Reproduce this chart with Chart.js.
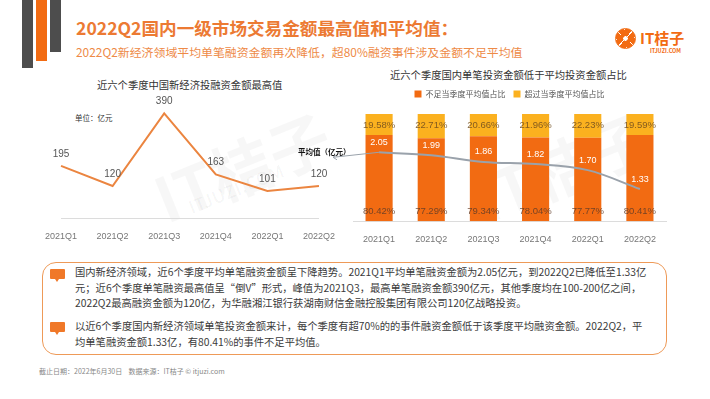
<!DOCTYPE html>
<html>
<head>
<meta charset="utf-8">
<script src="https://cdn.jsdelivr.net/npm/chart.js@4"></script>
<style>
  body { margin:0; width:710px; height:399px; background:#fff; position:relative; overflow:hidden;
         font-family:"Noto Sans CJK SC","Noto Sans",sans-serif; }
  .abs { position:absolute; white-space:nowrap; }
  .bar { position:absolute; top:0; }
  .box { position:absolute; left:42px; top:262px; width:623px; height:91px;
         border:1.5px solid #EE9A58; border-radius:14px; }
  .para { position:absolute; left:75px; font-size:10.3px; line-height:15.7px; color:#3a3a3a; white-space:nowrap; }
  .icon { position:absolute; left:50px; width:15px; height:10px; background:#F07828; border-radius:1px; }
  .icon:after { content:""; position:absolute; left:5px; top:10px; border-left:2px solid transparent;
                border-right:2px solid transparent; border-top:3px solid #F07828; }
  .wm { position:absolute; color:rgba(0,0,0,0.03); font-weight:bold; transform:rotate(-22deg); white-space:nowrap; }
</style>
</head>
<body>
<div class="bar" style="left:22px;width:11px;height:68px;background:#4d4d4d"></div>
<div class="bar" style="left:36px;width:11px;height:61px;background:#F26B12"></div>
<div class="bar" style="left:50px;width:11px;height:52px;background:#4d4d4d"></div>

<div class="abs" style="left:76px;top:15px;font-size:17.6px;font-weight:bold;color:#EC7A33">2022Q2国内一级市场交易金额最高值和平均值：</div>
<div class="abs" style="left:76px;top:43px;font-size:11.9px;color:#EE8A47">2022Q2新经济领域平均单笔融资金额再次降低，超80%融资事件涉及金额不足平均值</div>

<div class="abs" style="left:615px;top:28px;width:21px;height:21px;border-radius:50%;
  background:radial-gradient(circle,#fff 0 2px,transparent 2.5px),repeating-conic-gradient(#F26B12 0 38deg,#fff 38deg 45deg);border:1px solid #F26B12;box-sizing:border-box"></div>
<div class="abs" style="left:640px;top:27px;font-size:15px;color:#F26B12;font-weight:bold">IT桔子</div>
<div class="abs" style="left:650px;top:47px;font-size:5.5px;color:#F26B12;font-weight:bold">ITJUZI.COM</div>

<div class="wm" style="left:150px;top:120px;font-size:62px">IT桔子</div>
<div class="wm" style="left:185px;top:175px;font-size:18px">ITJUZI.COM</div>
<div class="wm" style="left:470px;top:120px;font-size:62px">IT桔子</div>

<div class="abs" style="left:97px;top:77px;font-size:10.3px;color:#333">近六个季度中国新经济投融资金额最高值</div>
<div class="abs" style="left:75px;top:112px;font-size:7.5px;color:#333">单位：亿元</div>
<div class="abs" style="left:390px;top:67px;font-size:10.3px;color:#333">近六个季度国内单笔投资金额低于平均投资金额占比</div>

<div style="position:absolute;left:40px;top:90px;width:300px;height:165px"><canvas id="c1"></canvas></div>
<div style="position:absolute;left:290px;top:82px;width:390px;height:171px"><canvas id="c2"></canvas></div>

<div class="box"></div>
<div class="icon" style="top:269px"></div>
<div class="para" style="top:264px">国内新经济领域，近6个季度平均单笔融资金额呈下降趋势。2021Q1平均单笔融资金额为2.05亿元，到2022Q2已降低至1.33亿<br>元；近6个季度单笔融资最高值呈“倒V”形式，峰值为2021Q3，最高单笔融资金额390亿元，其他季度均在100-200亿之间，<br>2022Q2最高融资金额为120亿，为华融湘江银行获湖南财信金融控股集团有限公司120亿战略投资。</div>
<div class="icon" style="top:322px"></div>
<div class="para" style="top:318px">以近6个季度国内新经济领域单笔投资金额来计，每个季度有超70%的的事件融资金额低于该季度平均融资金额。2022Q2，平<br>均单笔融资金额1.33亿，有80.41%的事件不足平均值。</div>

<div class="abs" style="left:39px;top:366px;font-size:7px;color:#888">截止日期：2022年6月30日&nbsp;&nbsp;&nbsp;&nbsp;数据来源：IT桔子 © itjuzi.com</div>

<script>
var quarters = ['2021Q1', '2021Q2', '2021Q3', '2021Q4', '2022Q1', '2022Q2'];
var maxAmount = [195, 120, 390, 163, 101, 120];
var belowAvg = [80.42, 77.29, 79.34, 78.04, 77.77, 80.41];
var aboveAvg = [19.58, 22.71, 20.66, 21.96, 22.23, 19.59];
var avgAmount = [2.05, 1.99, 1.86, 1.82, 1.70, 1.33];

var numFont = '"Liberation Sans", Arial, sans-serif';

// draws value text next to points / bars
var valueLabels = {
  id: 'valueLabels',
  afterDatasetsDraw: function(chart) {
    var ctx = chart.ctx;
    chart.data.datasets.forEach(function(ds, i) {
      if (!ds.lbl) return;
      var meta = chart.getDatasetMeta(i);
      ctx.save();
      ctx.font = ds.lbl.font;
      ctx.fillStyle = ds.lbl.color;
      ctx.textAlign = 'center';
      ctx.textBaseline = 'middle';
      meta.data.forEach(function(el, j) {
        var y;
        if (ds.lbl.pos == 'base') y = el.base - 10;
        else if (ds.lbl.pos == 'top') y = el.y + 11;
        else y = el.y - ds.lbl.off;
        ctx.fillText(ds.lbl.fmt(ds.data[j]), el.x, y);
      });
      ctx.restore();
    });
  }
};

// "平均值（亿元）" with arrow to the first point of the avg line
var avgNote = {
  id: 'avgNote',
  afterDatasetsDraw: function(chart) {
    var meta = chart.getDatasetMeta(2);
    var p = meta.data[0];
    var ctx = chart.ctx;
    var ax = chart.chartArea.left - 20, ay = p.y + 5;
    ctx.save();
    ctx.strokeStyle = '#9aa2ab';
    ctx.lineWidth = 1;
    ctx.beginPath();
    ctx.moveTo(p.x, p.y);
    ctx.lineTo(ax, ay);
    ctx.stroke();
    ctx.beginPath();
    ctx.moveTo(ax + 4, ay - 2.5);
    ctx.lineTo(ax, ay);
    ctx.lineTo(ax + 4, ay + 2.5);
    ctx.stroke();
    ctx.font = 'bold 7.5px "Noto Sans CJK SC"';
    ctx.fillStyle = '#111';
    ctx.textAlign = 'left';
    ctx.textBaseline = 'middle';
    ctx.fillText('平均值（亿元）', 8, p.y);
    ctx.restore();
  }
};

var legendGap = {
  id: 'legendGap',
  beforeInit: function(chart) {
    var fit = chart.legend.fit;
    chart.legend.fit = function() {
      fit.bind(chart.legend)();
      this.height += 6;
    };
  }
};

new Chart(document.getElementById('c1'), {
  type: 'line',
  data: {
    labels: quarters,
    datasets: [{
      data: maxAmount,
      borderColor: '#EB8540',
      borderWidth: 2,
      pointRadius: 0,
      tension: 0,
      lbl: { font: '10px ' + numFont, color: '#555', off: 12, fmt: function(v) { return v; } }
    }]
  },
  options: {
    responsive: true,
    maintainAspectRatio: false,
    animation: false,
    layout: { padding: { left: 6, right: 8, top: 10, bottom: 8 } },
    plugins: { legend: { display: false }, tooltip: { enabled: false } },
    scales: {
      x: {
        grid: { display: false },
        border: { display: true, color: '#dcdcdc' },
        ticks: { color: '#777', font: { family: numFont, size: 9 }, padding: 5 }
      },
      y: { display: false, min: 0, max: 440 }
    }
  },
  plugins: [valueLabels]
});

new Chart(document.getElementById('c2'), {
  data: {
    labels: quarters,
    datasets: [
      {
        type: 'bar',
        label: '不足当季度平均值占比',
        data: belowAvg,
        backgroundColor: '#F26B12',
        order: 2,
        lbl: { font: '9.5px ' + numFont, color: 'rgba(95,60,40,0.85)', pos: 'base', fmt: function(v) { return v.toFixed(2) + '%'; } }
      },
      {
        type: 'bar',
        label: '超过当季度平均值占比',
        data: aboveAvg,
        backgroundColor: '#FBB11F',
        order: 2,
        lbl: { font: '9.5px ' + numFont, color: 'rgba(110,75,30,0.85)', pos: 'top', fmt: function(v) { return v.toFixed(2) + '%'; } }
      },
      {
        type: 'line',
        label: '平均值',
        data: avgAmount,
        yAxisID: 'y1',
        borderColor: '#9aa2ab',
        borderWidth: 2,
        pointRadius: 0,
        tension: 0.35,
        order: 1,
        lbl: { font: '9px ' + numFont, color: '#fff', off: 10, fmt: function(v) { return v.toFixed(2); } }
      }
    ]
  },
  options: {
    responsive: true,
    maintainAspectRatio: false,
    animation: false,
    layout: { padding: { left: 63, right: 14, top: 0, bottom: 3 } },
    datasets: { bar: { categoryPercentage: 0.52, barPercentage: 1 } },
    plugins: {
      tooltip: { enabled: false },
      legend: {
        position: 'top',
        labels: {
          font: { family: '"Noto Sans CJK SC"', size: 8 },
          color: '#555',
          boxWidth: 7,
          boxHeight: 7,
          padding: 8,
          filter: function(item) { return item.datasetIndex < 2; }
        }
      }
    },
    scales: {
      x: {
        stacked: true,
        grid: { display: false },
        border: { display: true, color: '#dcdcdc' },
        ticks: { color: '#777', font: { family: numFont, size: 9 }, padding: 5 }
      },
      y: { display: false, stacked: true, min: 0, max: 100 },
      y1: { display: false, min: 0.7, max: 2.8 }
    }
  },
  plugins: [valueLabels, avgNote, legendGap]
});
</script>
</body>
</html>
